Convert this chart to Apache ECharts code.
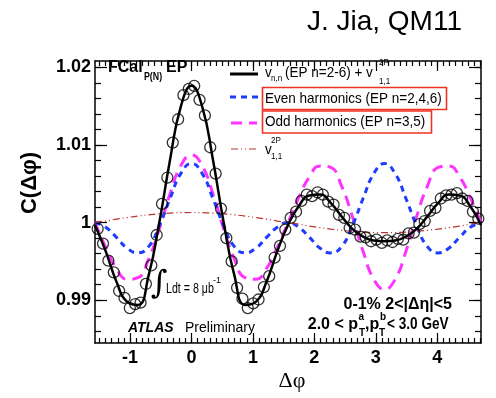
<!DOCTYPE html>
<html>
<head>
<meta charset="utf-8">
<script src="https://cdn.jsdelivr.net/npm/echarts@6/dist/echarts.min.js"></script>
<style>
html, body { margin: 0; padding: 0; background: #fff; }
#main { width: 496px; height: 398px; }
</style>
</head>
<body>
<div id="main"></div>
<script>
// fit curves sampled every 10 degrees, -pi/2 .. 3pi/2
var phiFit = [-1.571, -1.396, -1.222, -1.047, -0.873, -0.698, -0.524, -0.349, -0.175, 0,
    0.175, 0.349, 0.524, 0.698, 0.873, 1.047, 1.222, 1.396, 1.571, 1.745, 1.920, 2.094,
    2.269, 2.443, 2.618, 2.793, 2.967, 3.142, 3.316, 3.491, 3.665, 3.840, 4.014, 4.189,
    4.363, 4.538, 4.712];
var fitAll = [0.9997, 0.9963, 0.9924, 0.9898, 0.9894, 0.9932, 1.0000, 1.0081, 1.0149, 1.0176,
    1.0149, 1.0081, 1.0000, 0.9932, 0.9894, 0.9898, 0.9924, 0.9963, 0.9997, 1.0021, 1.0035, 1.0036,
    1.0025, 1.0008, 0.9992, 0.9982, 0.9977, 0.9976, 0.9977, 0.9982, 0.9992, 1.0008, 1.0025, 1.0036,
    1.0035, 1.0021, 0.9997];
var fitEven = [1.0000, 0.9994, 0.9981, 0.9967, 0.9961, 0.9969, 0.9996, 1.0031, 1.0063, 1.0076,
    1.0063, 1.0031, 0.9996, 0.9969, 0.9961, 0.9967, 0.9981, 0.9994, 1.0000, 0.9994, 0.9981, 0.9967,
    0.9961, 0.9969, 0.9996, 1.0031, 1.0063, 1.0076, 1.0063, 1.0031, 0.9996, 0.9969, 0.9961, 0.9967,
    0.9981, 0.9994, 1.0000];
var fitOdd = [1.0000, 0.9968, 0.9941, 0.9927, 0.9929, 0.9953, 0.9992, 1.0037, 1.0073, 1.0087,
    1.0073, 1.0037, 0.9992, 0.9953, 0.9929, 0.9927, 0.9941, 0.9968, 1.0000, 1.0032, 1.0059, 1.0073,
    1.0071, 1.0047, 1.0008, 0.9963, 0.9927, 0.9914, 0.9927, 0.9963, 1.0008, 1.0047, 1.0071, 1.0073,
    1.0059, 1.0032, 1.0000];
var fitV11 = [1.0001, 1.0002, 1.00045, 1.00065, 1.00084, 1.0010, 1.00113, 1.00122, 1.00128, 1.0013,
    1.00128, 1.00122, 1.00113, 1.0010, 1.00084, 1.00065, 1.00045, 1.0002, 1.0000, 0.9998, 0.99955, 0.99935,
    0.99916, 0.9990, 0.99887, 0.99878, 0.99872, 0.9987, 0.99872, 0.99878, 0.99887, 0.9990, 0.99916, 0.99935,
    0.99955, 0.9998, 1.0001];

// measured points
var phiData = [-1.527, -1.440, -1.353, -1.265, -1.178, -1.091, -1.004, -0.916, -0.829, -0.742,
    -0.654, -0.567, -0.480, -0.393, -0.305, -0.218, -0.131, -0.044, 0.044, 0.131, 0.218, 0.305,
    0.393, 0.480, 0.567, 0.654, 0.742, 0.829, 0.916, 1.004, 1.091, 1.178, 1.265, 1.353, 1.440,
    1.527, 1.614, 1.702, 1.789, 1.876, 1.963, 2.051, 2.138, 2.225, 2.313, 2.400, 2.487, 2.574,
    2.662, 2.749, 2.836, 2.923, 3.011, 3.098, 3.185, 3.272, 3.360, 3.447, 3.534, 3.621, 3.709,
    3.796, 3.883, 3.971, 4.058, 4.145, 4.232, 4.320, 4.407, 4.494, 4.581, 4.669];
var cData = [0.9992, 0.9973, 0.9951, 0.9936, 0.9912, 0.9903, 0.9890, 0.9895, 0.9897, 0.9921,
    0.9945, 0.9984, 1.0024, 1.0058, 1.0103, 1.0133, 1.0164, 1.0172, 1.0176, 1.0158, 1.0138, 1.0097,
    1.0063, 1.0018, 0.9980, 0.9950, 0.9916, 0.9902, 0.9890, 0.9896, 0.9901, 0.9917, 0.9931, 0.9955,
    0.9970, 0.9991, 1.0006, 1.0014, 1.0028, 1.0036, 1.0034, 1.0039, 1.0036, 1.0027, 1.0023, 1.0010,
    1.0006, 0.9993, 0.9991, 0.9982, 0.9981, 0.9976, 0.9978, 0.9974, 0.9977, 0.9975, 0.9979, 0.9978,
    0.9986, 0.9987, 0.9998, 1.0002, 1.0015, 1.0019, 1.0031, 1.0035, 1.0036, 1.0038, 1.0031, 1.0028,
    1.0014, 1.0005];

// ticks
var xMajor = [-1, 0, 1, 2, 3, 4];
var yMajor = [0.99, 1, 1.01, 1.02];
var xMinor = [];
for (var i = -15; i <= 47; i++) xMinor.push(i / 10);
var yMinor = [];
for (var j = 493; j <= 510; j++) yMinor.push(j / 500);

var X0 = -1.5708, X1 = 4.7124, Y0 = 0.9845, Y1 = 1.0208;

function pairs(xs, ys) {
    return xs.map(function (x, k) { return [x, ys[k]]; });
}

function ax(dir, pos, ticks, len, labels) {
    var a = {
        type: 'value',
        min: dir == 'x' ? X0 : Y0,
        max: dir == 'x' ? X1 : Y1,
        position: pos,
        axisLine: { show: len > 6, onZero: false, lineStyle: { color: '#000', width: 1.5 } },
        axisTick: { inside: true, length: len, customValues: ticks, lineStyle: { color: '#000', width: 1.2 } },
        axisLabel: { show: false },
        splitLine: { show: false }
    };
    if (labels) {
        a.axisLabel = {
            show: true, customValues: labels, margin: dir == 'x' ? 6 : 4,
            color: '#000', fontSize: 18, fontWeight: 'bold', fontFamily: 'Liberation Sans'
        };
    }
    return a;
}

function t(x, y, s, size, o) {
    o = o || {};
    var al = o.align || 'left';
    return {
        type: 'text', x: x, y: y, z: 100,
        scaleX: o.sx || 1, rotation: o.rot || 0,
        style: {
            text: s, fill: '#000', fontSize: size,
            fontWeight: o.bold ? 'bold' : 'normal',
            fontStyle: o.italic ? 'italic' : 'normal',
            fontFamily: o.font || 'Liberation Sans',
            align: al, textAlign: al, verticalAlign: 'middle', textVerticalAlign: 'middle'
        }
    };
}

function seg(x1, y1, x2, y2, color, w, dash) {
    return {
        type: 'line', z: 100,
        shape: { x1: x1, y1: y1, x2: x2, y2: y2 },
        style: { stroke: color, lineWidth: w, lineDash: dash || null }
    };
}

function box(x, y, w, h) {
    return {
        type: 'rect', z: 100,
        shape: { x: x, y: y, width: w, height: h },
        style: { fill: 'none', stroke: '#ee3322', lineWidth: 1.6 }
    };
}

var chart = echarts.init(document.getElementById('main'));

var option = {
    animation: false,
    backgroundColor: '#fff',
    grid: { left: 95, right: 15, top: 61, bottom: 55 },
    xAxis: [
        ax('x', 'bottom', xMajor, 10, xMajor),
        ax('x', 'bottom', xMinor, 5),
        ax('x', 'top', xMajor, 10),
        ax('x', 'top', xMinor, 5)
    ],
    yAxis: [
        ax('y', 'left', yMajor, 12, yMajor),
        ax('y', 'left', yMinor, 6),
        ax('y', 'right', yMajor, 12),
        ax('y', 'right', yMinor, 6)
    ],
    series: [
        {
            type: 'line', smooth: true, showSymbol: false, z: 2,
            data: pairs(phiFit, fitOdd),
            lineStyle: { color: '#ff33ff', width: 3, type: [11, 7] }
        },
        {
            type: 'line', smooth: true, showSymbol: false, z: 3,
            data: pairs(phiFit, fitEven),
            lineStyle: { color: '#1e3cff', width: 3, type: [6, 5] }
        },
        {
            type: 'line', smooth: true, showSymbol: false, z: 4,
            data: pairs(phiFit, fitV11),
            lineStyle: { color: '#b8342c', width: 1.2, type: [7, 3, 1, 3, 1, 3] }
        },
        {
            type: 'line', smooth: true, showSymbol: false, z: 5,
            data: pairs(phiFit, fitAll),
            lineStyle: { color: '#000', width: 2.5 }
        },
        {
            type: 'scatter', z: 6,
            data: pairs(phiData, cData),
            symbol: 'circle', symbolSize: 11,
            itemStyle: { color: 'rgba(0,0,0,0)', borderColor: '#000', borderWidth: 1.3 }
        }
    ],
    graphic: [
        t(462, 22, 'J. Jia, QM11', 28, { align: 'right' }),
        t(108, 68, 'FCal', 16, { bold: true }),
        t(144, 77, 'P(N)', 11, { bold: true, sx: 0.8 }),
        t(166, 68, 'EP', 16, { bold: true }),

        // legend
        seg(230, 74, 258, 74, '#000', 3),
        t(265, 73, 'v', 15, { sx: 0.9 }),
        t(271, 79, 'n,n', 9, { sx: 0.9 }),
        t(285, 73, '(EP n=2-6) + v', 15, { sx: 0.9 }),
        t(379, 63, '2P', 9, { sx: 0.9 }),
        t(379, 82, '1,1', 9, { sx: 0.9 }),
        seg(230, 97, 258, 97, '#1e3cff', 3, [6, 5]),
        box(262.5, 87.5, 184, 22),
        t(265, 98.5, 'Even harmonics (EP n=2,4,6)', 15, { sx: 0.9 }),
        seg(231, 123, 257, 123, '#ff33ff', 3, [11, 7]),
        box(262.5, 111, 169, 22),
        t(265, 122, 'Odd harmonics (EP n=3,5)', 15, { sx: 0.9 }),
        seg(231, 149, 257, 149, '#b8342c', 1.2, [7, 3, 1, 3, 1, 3]),
        t(265, 150, 'v', 15, { sx: 0.9 }),
        t(271, 141, '2P', 9, { sx: 0.9 }),
        t(271, 157, '1,1', 9, { sx: 0.9 }),

        // labels inside the frame
        t(159, 285, '\u222b', 32, { align: 'center', font: 'DejaVu Serif' }),
        t(166, 289, 'Ldt = 8 \u03bcb', 14, { sx: 0.76 }),
        t(213, 281, '-1', 9),
        t(128, 328, 'ATLAS', 14, { bold: true, italic: true }),
        t(185, 328, 'Preliminary', 14),
        t(452, 305, '0-1% 2<|\u0394\u03b7|<5', 16, { bold: true, align: 'right' }),
        t(358, 325, '2.0 < p', 16, { bold: true, align: 'right' }),
        t(358.5, 317, 'a', 10, { bold: true }),
        t(359, 333, 'T', 10, { bold: true }),
        t(365, 325, ',p', 16, { bold: true }),
        t(380, 317, 'b', 10, { bold: true }),
        t(379, 333, 'T', 10, { bold: true }),
        t(387, 325, '< 3.0 GeV', 16, { bold: true, sx: 0.85 }),

        // axis titles
        t(30, 183, 'C(\u0394\u03c6)', 22, { bold: true, align: 'center', rot: Math.PI / 2 }),
        t(292, 381, '\u0394\u03c6', 22, { align: 'center', font: 'Liberation Serif' })
    ]
};

chart.setOption(option);
window.onresize = function () {
    chart.resize();
};
</script>
</body>
</html>
